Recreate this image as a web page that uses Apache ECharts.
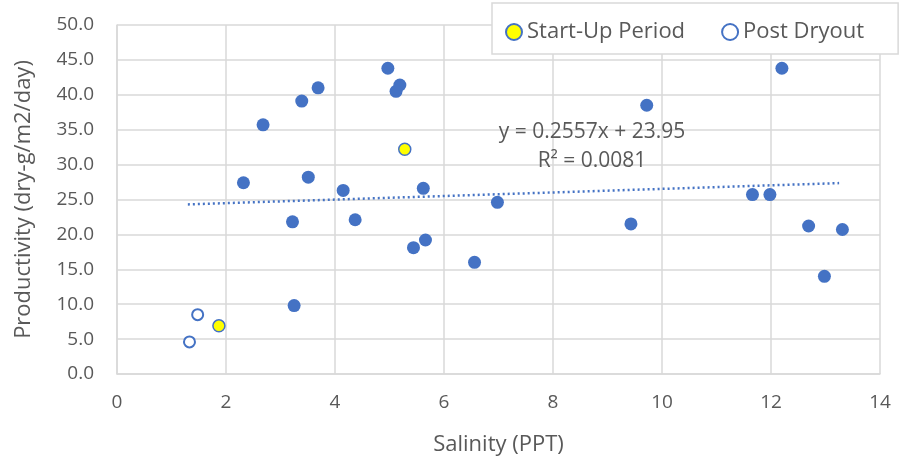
<!DOCTYPE html>
<html>
<head>
<meta charset="utf-8">
<script src="https://cdn.jsdelivr.net/npm/echarts@6/dist/echarts.min.js"></script>
<style>
  html, body { margin: 0; padding: 0; background: #fff; }
  #chart { width: 899px; height: 461px; }
</style>
</head>
<body>
<div id="chart"></div>
<script>
// main series (no legend entry)
var mainX = [4.97, 5.19, 5.12, 3.69, 3.39, 2.68, 2.32, 3.51, 4.15, 5.62, 3.22, 4.37,
             5.44, 5.66, 3.25, 9.72, 6.98, 11.66, 11.98, 9.43, 12.69, 13.31, 6.56, 12.98, 12.2];
var mainY = [43.8, 41.4, 40.5, 41.0, 39.1, 35.7, 27.4, 28.2, 26.3, 26.6, 21.8, 22.1,
             18.1, 19.2, 9.8, 38.5, 24.6, 25.7, 25.7, 21.5, 21.2, 20.7, 16.0, 14.0, 43.8];

var startX = [5.28, 1.87];
var startY = [32.2, 6.9];

var dryX = [1.48, 1.33];
var dryY = [8.5, 4.6];

// trendline endpoints
var trendX = [1.3, 13.25];
var trendY = [24.3, 27.35];

var eqText = ['y = 0.2557x + 23.95', 'R² = 0.0081'];

function pairs(xs, ys) {
    var out = [];
    for (var i = 0; i < xs.length; i++) out.push([xs[i], ys[i]]);
    return out;
}

var fontFam = '"Open Sans", "Noto Sans", sans-serif';
var txtColor = '#595959';
var blue = '#4472C4';
var gridCol = '#D9D9D9';

var option = {
    animation: false,
    backgroundColor: '#fff',
    textStyle: { fontFamily: fontFam },
    grid: { left: 117, right: 19, top: 25, bottom: 86 },
    legend: {
        left: 492,
        top: 3,
        padding: [18, 34, 11, 13],
        itemGap: 36,
        itemWidth: 16,
        itemHeight: 16,
        borderColor: gridCol,
        borderWidth: 1.5,
        backgroundColor: '#fff',
        textStyle: { color: txtColor, fontSize: 22, fontFamily: fontFam },
        data: ['Start-Up Period', 'Post Dryout']
    },
    xAxis: {
        type: 'value',
        min: 0, max: 14, interval: 2,
        name: 'Salinity (PPT)',
        nameLocation: 'middle',
        nameGap: 60,
        nameTextStyle: { color: txtColor, fontSize: 22 },
        axisLine: { show: true, lineStyle: { color: gridCol, width: 1.5 } },
        axisTick: { show: false },
        axisLabel: { color: txtColor, fontSize: 19, margin: 19 },
        splitLine: { show: true, lineStyle: { color: gridCol, width: 1.5 } }
    },
    yAxis: {
        type: 'value',
        min: 0, max: 50, interval: 5,
        name: 'Productivity (dry-g/m2/day)',
        nameLocation: 'middle',
        nameGap: 82,
        nameTextStyle: { color: txtColor, fontSize: 22 },
        axisLine: { show: true, lineStyle: { color: gridCol, width: 1.5 } },
        axisTick: { show: false },
        axisLabel: {
            color: txtColor, fontSize: 19, margin: 23,
            formatter: function (v) { return v.toFixed(1); }
        },
        splitLine: { show: true, lineStyle: { color: gridCol, width: 1.5 } }
    },
    graphic: [
        {
            type: 'text', x: 592, y: 132, z: 100,
            style: { text: eqText[0], fill: txtColor, font: '21px ' + fontFam, textAlign: 'center', textVerticalAlign: 'middle' }
        },
        {
            type: 'text', x: 592, y: 161, z: 100,
            style: { text: eqText[1], fill: txtColor, font: '21px ' + fontFam, textAlign: 'center', textVerticalAlign: 'middle' }
        }
    ],
    series: [
        {
            name: 'Trend',
            type: 'line',
            data: pairs(trendX, trendY),
            showSymbol: false,
            symbol: 'none',
            lineStyle: { color: blue, width: 2.5, type: [2, 3] },
            z: 1
        },
        {
            name: 'Main',
            type: 'scatter',
            data: pairs(mainX, mainY),
            symbolSize: 13,
            itemStyle: { color: blue, opacity: 1 },
            z: 2
        },
        {
            name: 'Start-Up Period',
            type: 'scatter',
            data: pairs(startX, startY),
            symbol: 'circle',
            symbolSize: 12,
            itemStyle: { color: '#FFFF00', borderColor: blue, borderWidth: 1.5, opacity: 1 },
            z: 3
        },
        {
            name: 'Post Dryout',
            type: 'scatter',
            data: pairs(dryX, dryY),
            symbol: 'circle',
            symbolSize: 11,
            itemStyle: { color: '#fff', borderColor: blue, borderWidth: 2, opacity: 1 },
            z: 3
        }
    ]
};

var chart = echarts.init(document.getElementById('chart'));
chart.setOption(option);
</script>
</body>
</html>
